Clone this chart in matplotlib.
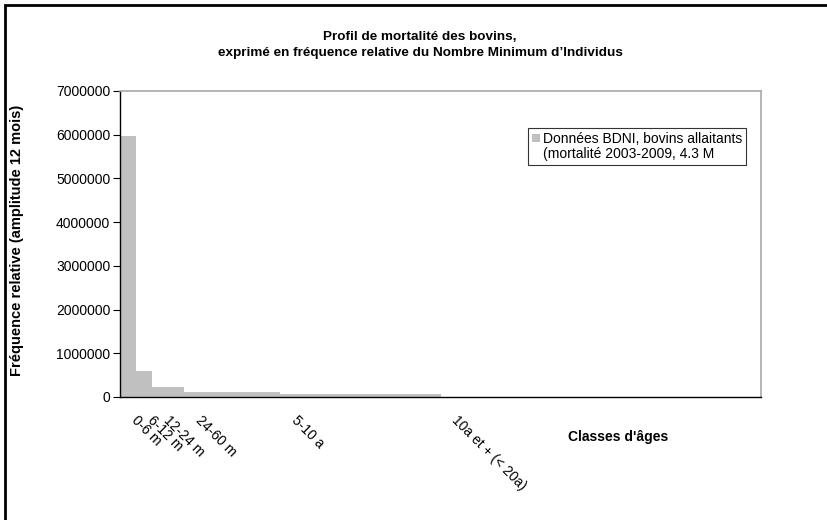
import matplotlib
matplotlib.use("Agg")
import matplotlib.pyplot as plt
from matplotlib.patches import Patch, Rectangle
from matplotlib.transforms import ScaledTranslation

plt.rcParams['font.family'] = ['Liberation Sans', 'DejaVu Sans']

# Data: age classes (start in years, width in years) and relative frequency
class_labels = ["0-6 m", "6-12 m", "12-24 m", "24-60 m", "5-10 a", "10a et + (< 20a)"]
class_start = [0, 0.5, 1, 2, 5, 10]
class_width = [0.5, 0.5, 1, 3, 5, 10]
freq = [5960000, 590000, 220000, 105000, 60000, 6000]
y_ticks = [0, 1000000, 2000000, 3000000, 4000000, 5000000, 6000000, 7000000]

fig = plt.figure(figsize=(8.27, 5.2), dpi=100)
ax = fig.add_axes([120/827, 1-397/520, (761-120)/827, (397-91)/520])

ax.bar(class_start, freq, width=class_width, align='edge', color='#C0C0C0',
       edgecolor='none', label="Données BDNI, bovins allaitants")

ax.set_xlim(0, 20)
ax.set_ylim(0, 7000000)
ax.set_yticks(y_ticks)
ax.set_yticklabels([str(v) for v in y_ticks], fontsize=10)
ax.tick_params(axis='y', length=5, width=0.8, pad=2)
ax.set_xticks([])

for side in ['left', 'bottom']:
    ax.spines[side].set_color('black')
    ax.spines[side].set_linewidth(1.0)
for side in ['top', 'right']:
    ax.spines[side].set_color('#A8A8A8')
    ax.spines[side].set_linewidth(1.2)

# rotated x category labels at class starts
off = ScaledTranslation(11/100, -24/100, fig.dpi_scale_trans)
for xs, lab in zip(class_start, class_labels):
    ax.text(xs, 0, lab, transform=ax.get_xaxis_transform() + off,
            rotation=-45, rotation_mode='anchor', ha='left', va='baseline',
            fontsize=10)

fig.text(17/827, 1-240/520, "Fréquence relative (amplitude 12 mois)", rotation=90,
         ha='center', va='center', fontsize=10.5, fontweight='bold')

fig.text(618/827, 1-437/520, "Classes d'âges", ha='center', va='center',
         fontsize=10, fontweight='bold')

fig.text(420/827, 1-37/520, "Profil de mortalité des bovins,", ha='center', va='center',
         fontsize=9.7, fontweight='bold')
fig.text(420/827, 1-53/520, "exprimé en fréquence relative du Nombre Minimum d\u2019Individus",
         ha='center', va='center', fontsize=9.7, fontweight='bold')

handles = [Patch(facecolor='#C0C0C0', edgecolor='none'), Patch(facecolor='none', edgecolor='none')]
labels = ["Données BDNI, bovins allaitants", "(mortalité 2003-2009, 4.3 M"]
leg = fig.legend(handles, labels, loc='upper left', bbox_to_anchor=(528/827, 1-128/520),
                 bbox_transform=fig.transFigure, borderaxespad=0, fontsize=10,
                 frameon=True, fancybox=False, shadow=False, borderpad=0.3,
                 handlelength=0.55, handleheight=0.55, handletextpad=0.2,
                 labelspacing=0.05)
leg.get_frame().set_edgecolor('black')
leg.get_frame().set_linewidth(0.8)

# outer chart frame (left and top edges visible)
fig.add_artist(Rectangle((5/827, -0.5), 2.0, 0.5 + 1 - 5/520, transform=fig.transFigure,
                         fill=False, edgecolor='black', linewidth=2))

fig.savefig("out.png", dpi=100)
